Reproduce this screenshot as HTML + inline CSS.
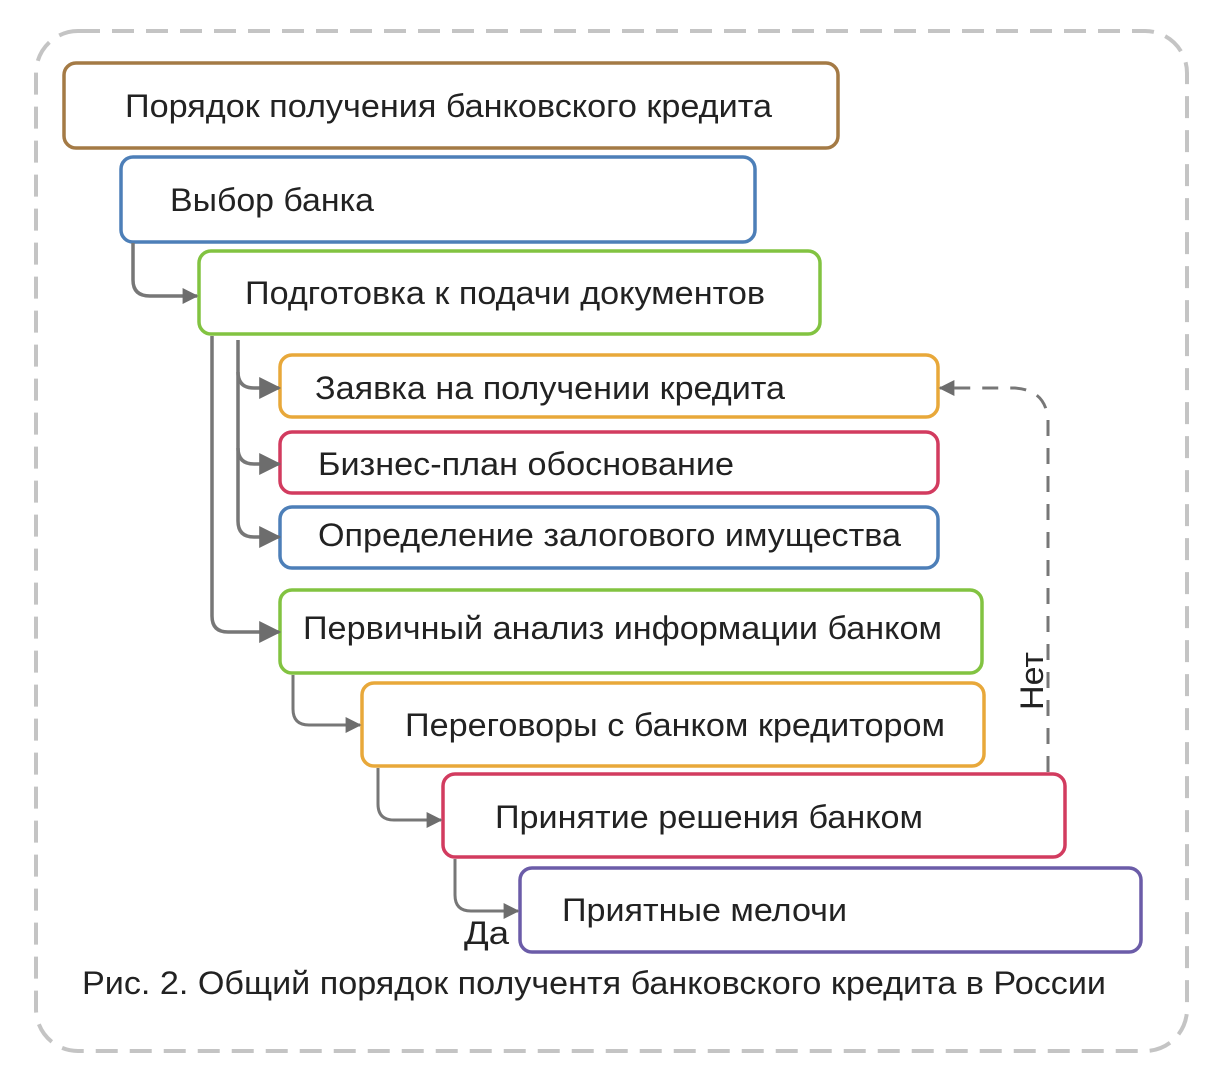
<!DOCTYPE html>
<html><head><meta charset="utf-8"><style>
html,body{margin:0;padding:0;background:#fff;width:1225px;height:1080px;overflow:hidden}
text{font-family:"Liberation Sans",sans-serif;fill:#222}
</style></head><body>
<svg width="1225" height="1080" viewBox="0 0 1225 1080" xmlns="http://www.w3.org/2000/svg">
<defs>
<marker id="a" viewBox="0 0 10 10" refX="9" refY="5" markerWidth="6" markerHeight="6" markerUnits="userSpaceOnUse" orient="auto"><path d="M0,0L10,5L0,10z" fill="#6d6d6d"/></marker>
<marker id="A" viewBox="0 0 10 10" refX="9" refY="5" markerWidth="22" markerHeight="22" markerUnits="userSpaceOnUse" orient="auto"><path d="M0,0L10,5L0,10z" fill="#6d6d6d"/></marker>
<marker id="B" viewBox="0 0 10 10" refX="9" refY="5" markerWidth="16" markerHeight="16" markerUnits="userSpaceOnUse" orient="auto"><path d="M0,0L10,5L0,10z" fill="#6d6d6d"/></marker>
</defs>
<rect x="36" y="31" width="1151" height="1020" rx="42" fill="none" stroke="#c4c4c4" stroke-width="4" stroke-dasharray="22,12"/>
<g fill="#fff" stroke-width="3.5">
<rect x="64" y="63" width="774" height="85" rx="12" stroke="#a47a45"/>
<rect x="121" y="157" width="634" height="85" rx="12" stroke="#4d7fb8"/>
<rect x="199" y="251" width="621" height="83" rx="12" stroke="#82c341"/>
<rect x="280" y="355" width="658" height="62" rx="12" stroke="#e8a83a"/>
<rect x="280" y="432" width="658" height="61" rx="12" stroke="#d23b5f"/>
<rect x="280" y="507" width="658" height="61" rx="12" stroke="#4d7fb8"/>
<rect x="280" y="590" width="702" height="83" rx="12" stroke="#82c341"/>
<rect x="362" y="683" width="622" height="83" rx="12" stroke="#e8a83a"/>
<rect x="443" y="774" width="622" height="83" rx="12" stroke="#d23b5f"/>
<rect x="520" y="868" width="621" height="84" rx="12" stroke="#6b5ca8"/>
</g>
<g fill="none" stroke="#777" stroke-width="3.5">
<path d="M133,243 V280 Q133,296 150,296 H197" marker-end="url(#B)"/>
<path d="M212,336 V616 Q212,632 228,632 H279" marker-end="url(#A)"/>
<path d="M238,340 V521 Q238,537 254,537 H279" marker-end="url(#A)"/>
<path d="M238,372 Q238,388 254,388 H279" marker-end="url(#A)"/>
<path d="M238,448 Q238,464 254,464 H279" marker-end="url(#A)"/>
<path d="M293,675 V709 Q293,725 309,725 H360" stroke-width="3" marker-end="url(#B)"/>
<path d="M378,768 V804 Q378,820 394,820 H441" stroke-width="3" marker-end="url(#B)"/>
<path d="M455,859 V895 Q455,911 471,911 H518" stroke-width="3" marker-end="url(#B)"/>
<path d="M1048,772 V420 Q1046,390 1015,388 H940" stroke-dasharray="16,12" stroke-width="3" marker-end="url(#B)"/>
</g>
<g font-size="32">
<text x="125" y="117" textLength="647" lengthAdjust="spacingAndGlyphs">Порядок получения банковского кредита</text>
<text x="170" y="211" textLength="204" lengthAdjust="spacingAndGlyphs">Выбор банка</text>
<text x="245" y="304" textLength="520" lengthAdjust="spacingAndGlyphs">Подготовка к подачи документов</text>
<text x="315" y="399" textLength="470" lengthAdjust="spacingAndGlyphs">Заявка на получении кредита</text>
<text x="318" y="475" textLength="416" lengthAdjust="spacingAndGlyphs">Бизнес-план обоснование</text>
<text x="318" y="546" textLength="583" lengthAdjust="spacingAndGlyphs">Определение залогового имущества</text>
<text x="303" y="639" textLength="639" lengthAdjust="spacingAndGlyphs">Первичный анализ информации банком</text>
<text x="405" y="736" textLength="540" lengthAdjust="spacingAndGlyphs">Переговоры с банком кредитором</text>
<text x="495" y="828" textLength="428" lengthAdjust="spacingAndGlyphs">Принятие решения банком</text>
<text x="562" y="921" textLength="285" lengthAdjust="spacingAndGlyphs">Приятные мелочи</text>
<text x="464" y="944" textLength="45" lengthAdjust="spacingAndGlyphs">Да</text>
<text transform="translate(1043,710) rotate(-90)" textLength="58" lengthAdjust="spacingAndGlyphs">Нет</text>
<text x="82" y="994" textLength="1024" lengthAdjust="spacingAndGlyphs">Рис. 2. Общий порядок получентя банковского кредита в России</text>
</g>
</svg>
</body></html>
